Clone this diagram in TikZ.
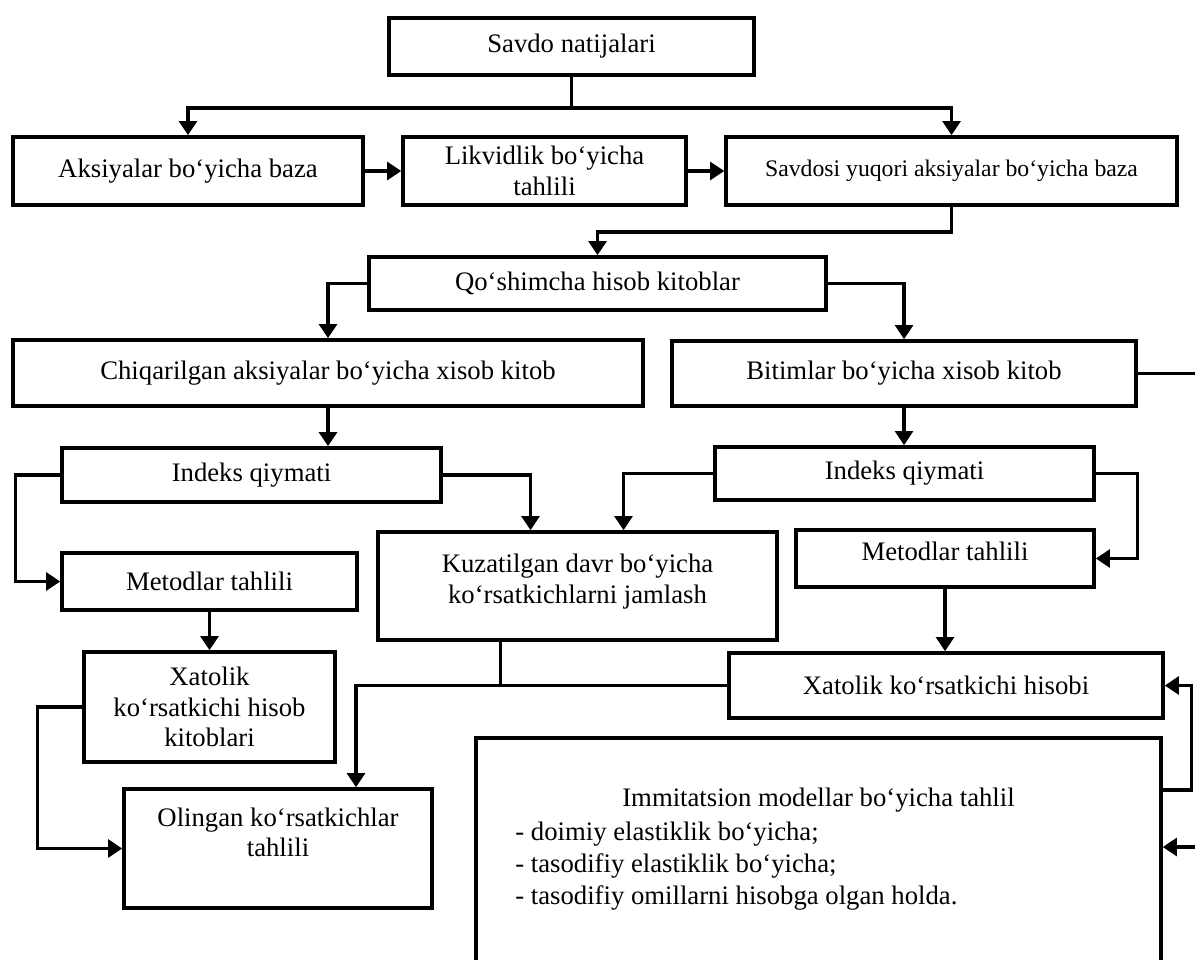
\documentclass[tikz,border=0pt]{standalone}
\usepackage{fontspec}
\setmainfont{Liberation Serif}
\usetikzlibrary{arrows.meta, calc}

\begin{document}
\begin{tikzpicture}[x=0.02cm, y=-0.02cm,
        box/.style={draw, line width=2pt, inner sep=2pt, align=center,
          font=\fontsize{15.2}{17.5}\selectfont},
        conn/.style={line width=2pt},
        arr/.style={conn, -{Triangle[length=8pt, width=10pt]}}]
        \useasboundingbox (0,0) rectangle (1195,959);

        \node[box, minimum width=7.3cm, minimum height=1.14cm] (savdo) at (571.5,46.5) {Savdo natijalari};

        \node[box, minimum width=7cm, minimum height=1.36cm] (aks) at (188,171) {Aksiyalar bo‘yicha baza};
        \node[box, minimum width=5.66cm, minimum height=1.36cm] (likv) at (544.5,171) {Likvidlik bo‘yicha\\tahlili};
        \node[box, minimum width=9.02cm, minimum height=1.36cm,
              font=\fontsize{13.5}{16}\selectfont] (savdosi) at (951.5,171) {Savdosi yuqori aksiyalar bo‘yicha baza};

        \node[box, minimum width=9.14cm, minimum height=1.06cm] (qosh) at (597.5,283.5) {Qo‘shimcha hisob kitoblar};

        \node[box, minimum width=12.6cm, minimum height=1.32cm] (chiq) at (328,373) {Chiqarilgan aksiyalar bo‘yicha xisob kitob};
        \node[box, minimum width=9.28cm, minimum height=1.3cm] (bitim) at (904,373.5) {Bitimlar bo‘yicha xisob kitob};

        \node[box, minimum width=7.58cm, minimum height=1.08cm] (indL) at (251.5,475) {Indeks qiymati};
        \node[box, minimum width=7.58cm, minimum height=1.06cm] (indR) at (904.5,473.5) {Indeks qiymati};

        \node[box, minimum width=5.9cm, minimum height=1.14cm] (metL) at (209.5,581.5) {Metodlar tahlili};
        \node[box, minimum width=7.98cm, minimum height=2.16cm, text depth=0.3cm] (kuz) at (577.5,586) {Kuzatilgan davr bo‘yicha\\ko‘rsatkichlarni jamlash};
        \node[box, minimum width=5.96cm, minimum height=1.14cm, text depth=0.3cm] (metR) at (945,558.5) {Metodlar tahlili};

        \node[box, minimum width=5.02cm, minimum height=2.2cm] (xatL) at (209.5,707) {Xatolik\\ko‘rsatkichi hisob\\kitoblari};
        \node[box, minimum width=8.68cm, minimum height=1.3cm] (xatR) at (946,685.5) {Xatolik ko‘rsatkichi hisobi};

        \node[box, minimum width=6.16cm, minimum height=2.38cm, text depth=0.65cm] (oling) at (278,848.5) {Olingan ko‘rsatkichlar\\tahlili};

        \node[box, minimum width=13.7cm, minimum height=5.48cm, anchor=north] (immit) at (818.5,736) {};
        \node[font=\fontsize{15.2}{17.5}\selectfont] (immtitle) at (818.5,800) {Immitatsion modellar bo‘yicha tahlil};
        \node[font=\fontsize{15.2}{18}\selectfont, align=left, anchor=north west, inner sep=0pt] (immlist) at (515,822)
          {- doimiy elastiklik bo‘yicha;\\- tasodifiy elastiklik bo‘yicha;\\- tasodifiy omillarni hisobga olgan holda.};

        \coordinate (spl) at (571.5,108);
        \draw[conn] (savdo.south) -- (spl);
        \draw[arr] (spl) -| (aks.north);
        \draw[arr] (spl) -| (savdosi.north);
        \draw[arr] (aks) -- (likv);
        \draw[arr] (likv) -- (savdosi);

        \draw[arr] (savdosi.south) -- ++(0,25) -| (qosh.north);
        \draw[arr] (qosh.west) -| (chiq.north);
        \draw[arr] (qosh.east) -| (bitim.north);
        \coordinate (offB) at ($(bitim.east)+(60,0)$);
        \draw[conn] (bitim.east) -- (offB);

        \draw[arr] (chiq.south) -- (chiq.south |- indL.north);
        \draw[arr] (bitim.south) -- (bitim.south |- indR.north);

        \draw[arr] (indL.west) -- ++(-45,0) |- (metL.west);
        \draw[arr] (indL.east) -| ($(kuz.north)+(-47,0)$);
        \draw[arr] (indR.west) -| ($(kuz.north)+(46,0)$);
        \draw[arr] (indR.east) -- ++(42,0) |- (metR.east);

        \draw[arr] (metL) -- (metL |- xatL.north);
        \draw[arr] (metR.south) -- (metR.south |- xatR.north);
        \draw[arr] (xatL.west) -- ++(-45,0) |- (oling.west);

        \coordinate (kz) at ($(kuz.south)+(-77,0)$);
        \coordinate (jn) at (kz |- xatR.west);
        \coordinate (olin) at ($(oling.north)+(78,0)$);
        \draw[conn] (kz) -- (jn);
        \draw[arr] (xatR.west) -| (olin);

        \draw[arr] ($(immit.north east)+(0,54)$) -- ++(29,0) |- (xatR.east);
        \coordinate (offR) at ($(immit.north east)+(40,111)$);
        \draw[arr] (offR) -- (immit.north east |- offR);
      \end{tikzpicture}
\end{document}
